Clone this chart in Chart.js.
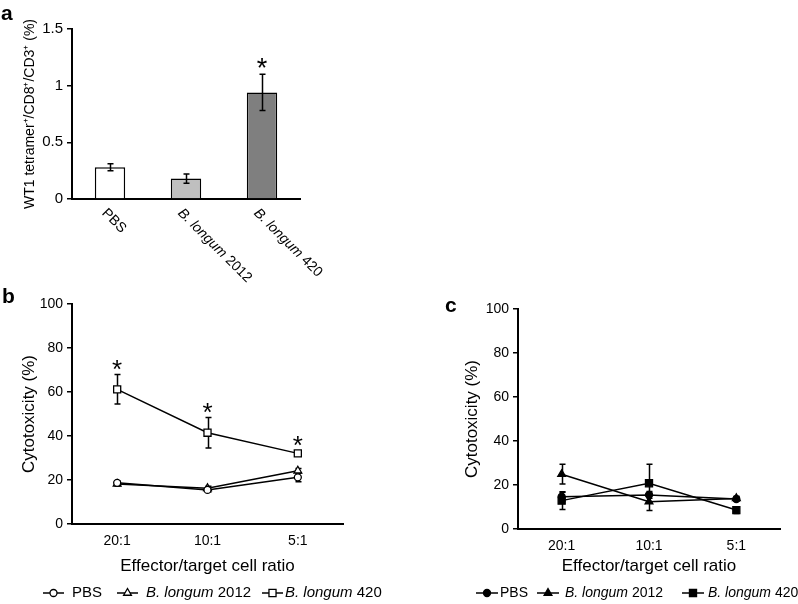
<!DOCTYPE html>
<html>
<head>
<meta charset="utf-8">
<script src="https://cdn.jsdelivr.net/npm/chart.js@4.4.0/dist/chart.umd.min.js"></script>
<style>
body{margin:0;background:#fff;}
#fig{position:relative;width:798px;height:604px;background:#fff;font-family:"Liberation Sans",Arial,sans-serif;color:#000;}
canvas{position:absolute;}
.lbl{position:absolute;font-weight:bold;font-size:21px;line-height:20px;}
</style>
</head>
<body>
<div id="fig">
<canvas id="chartA" width="330" height="290" style="left:0;top:0"></canvas>
<canvas id="chartB" width="400" height="319" style="left:0;top:285px"></canvas>
<canvas id="chartC" width="398" height="319" style="left:400px;top:285px"></canvas>
<div class="lbl" style="left:1px;top:3px">a</div>
<div class="lbl" style="left:2px;top:286px">b</div>
<div class="lbl" style="left:445px;top:295px">c</div>
</div>
<script>
var FONT='"Liberation Sans", Arial, sans-serif';

// panel a
var groups=['PBS','B. longum 2012','B. longum 420'];
var tetramer=[0.28,0.18,0.94];
var tetramerErr=[0.03,0.04,0.16];
var tetramerStar=[false,false,true];
var barFill=['#ffffff','#bfbfbf','#7f7f7f'];

// panels b and c
var ratios=['20:1','10:1','5:1'];
var bPBS=[18.7,15.5,21.2];
var bPBSErr=[1,1,2];
var b2012=[18.2,16.2,24.2];
var b2012Err=[1,1,1];
var b420=[61.2,41.5,32.1];
var b420Err=[6.7,6.9,1];
var b420Star=[true,true,true];
var cPBS=[14.7,15.5,13.6];
var cPBSErr=[2,1.5,1];
var c2012=[24.9,12.4,13.9];
var c2012Err=[4.5,4,1];
var c420=[12.9,20.8,8.6];
var c420Err=[4,8.6,1.5];

// italic species name, plain strain number
function drawRich(ctx,text,x,y,size){
  var parts=text.indexOf('B. longum')===0?[['B. longum','italic'],[text.slice(9),'normal']]:[[text,'normal']];
  for(var i=0;i<parts.length;i++){
    ctx.font=parts[i][1]+' '+size+'px '+FONT;
    ctx.fillText(parts[i][0],x,y);
    x+=ctx.measureText(parts[i][0]).width;
  }
}

function drawMarker(ctx,style,x,y,r,fill){
  ctx.beginPath();
  if(style==='circle'){
    ctx.arc(x,y,r,0,Math.PI*2);
  }else if(style==='triangle'){
    var rad=0;
    ctx.moveTo(x+Math.sin(rad)*r,y-Math.cos(rad)*r);
    rad+=Math.PI*2/3;
    ctx.lineTo(x+Math.sin(rad)*r,y-Math.cos(rad)*r);
    rad+=Math.PI*2/3;
    ctx.lineTo(x+Math.sin(rad)*r,y-Math.cos(rad)*r);
    ctx.closePath();
  }else{
    var s=r*Math.SQRT1_2;
    ctx.rect(x-s,y-s,2*s,2*s);
  }
  ctx.fillStyle=fill;
  ctx.fill();
  ctx.lineWidth=1.3;
  ctx.strokeStyle='#000';
  ctx.stroke();
}

function errorBars(chart){
  var ctx=chart.ctx,ys=chart.scales.y;
  ctx.save();
  ctx.strokeStyle='#000';
  ctx.lineWidth=1.5;
  chart.data.datasets.forEach(function(ds,i){
    var meta=chart.getDatasetMeta(i);
    meta.data.forEach(function(el,j){
      var e=ds.err[j];
      if(!e)return;
      var x=Math.round(el.x)+0.5;
      var t=ys.getPixelForValue(ds.data[j]+e);
      var b=ys.getPixelForValue(ds.data[j]-e);
      ctx.beginPath();
      ctx.moveTo(x,t);ctx.lineTo(x,b);
      ctx.moveTo(x-3,t);ctx.lineTo(x+3,t);
      ctx.moveTo(x-3,b);ctx.lineTo(x+3,b);
      ctx.stroke();
    });
  });
  ctx.restore();
}

function extras(cfg){
  return {
    id:'extras',
    beforeDatasetsDraw:function(chart){
      if(!cfg.errOnTop)errorBars(chart);
    },
    afterDatasetsDraw:function(chart){
      if(cfg.errOnTop)errorBars(chart);
    },
    afterDraw:function(chart){
      var ctx=chart.ctx,ys=chart.scales.y;
      ctx.save();
      ctx.fillStyle='#000';
      // stars
      chart.data.datasets.forEach(function(ds,i){
        if(!ds.star)return;
        var meta=chart.getDatasetMeta(i);
        meta.data.forEach(function(el,j){
          if(!ds.star[j])return;
          var t=ys.getPixelForValue(ds.data[j]+ds.err[j])-cfg.starGap;
          ctx.font=cfg.starSize+'px '+FONT;
          ctx.textAlign='center';
          ctx.textBaseline='alphabetic';
          ctx.fillText('*',el.x,t+0.58*cfg.starSize);
        });
      });
      // rotated category labels (panel a)
      if(cfg.catLabels){
        var xs=chart.scales.x;
        chart.data.labels.forEach(function(lab,i){
          ctx.save();
          ctx.translate(xs.getPixelForValue(i)+cfg.catLabels.dx,chart.chartArea.bottom+cfg.catLabels.dy);
          ctx.rotate(Math.PI/4);
          ctx.textAlign='left';
          ctx.textBaseline='top';
          drawRich(ctx,lab,0,0,cfg.catLabels.size);
          ctx.restore();
        });
      }
      // legend
      if(cfg.legend){
        var L=cfg.legend;
        chart.data.datasets.forEach(function(ds,i){
          var x0=L.lx[i];
          ctx.strokeStyle='#000';
          ctx.lineWidth=1.5;
          ctx.beginPath();
          ctx.moveTo(x0,L.y);ctx.lineTo(x0+L.len,L.y);
          ctx.stroke();
          drawMarker(ctx,ds.pointStyle,x0+L.len/2,L.y,ds.pointRadius,ds.pointBackgroundColor);
          ctx.fillStyle='#000';
          ctx.textAlign='left';
          ctx.textBaseline='middle';
          drawRich(ctx,ds.label,L.tx[i],L.y,L.size);
        });
      }
      ctx.restore();
    }
  };
}

function lineSet(label,data,err,style,r,fill,star){
  return {label:label,data:data,err:err,star:star,borderColor:'#000',borderWidth:1.5,tension:0,
    pointStyle:style,pointRadius:r,pointHoverRadius:r,pointBackgroundColor:fill,pointBorderColor:'#000',pointBorderWidth:1.3};
}

function lineOptions(pad,titlePad,xTitlePad){
  return {
    responsive:false,animation:false,devicePixelRatio:1,
    layout:{padding:pad},
    plugins:{legend:{display:false},tooltip:{enabled:false}},
    scales:{
      x:{offset:true,
        ticks:{color:'#000',font:{size:14,family:FONT},padding:9},
        grid:{drawOnChartArea:false,drawTicks:false},
        border:{color:'#000',width:2},
        title:{display:true,text:'Effector/target cell ratio',color:'#000',font:{size:17,family:FONT},padding:{top:0,bottom:xTitlePad}},
        afterFit:function(s){s.height=54;}},
      y:{min:0,max:100,
        ticks:{stepSize:20,color:'#000',font:{size:14,family:FONT},padding:4},
        grid:{drawOnChartArea:false,tickLength:5,color:'#000',lineWidth:1.5},
        border:{color:'#000',width:2},
        title:{display:true,text:'Cytotoxicity (%)',color:'#000',font:{size:17,family:FONT},padding:{top:titlePad,bottom:0}},
        afterFit:function(s){s.width=72;}}
    }
  };
}

new Chart(document.getElementById('chartA'),{
  type:'bar',
  data:{labels:groups,datasets:[{data:tetramer,err:tetramerErr,star:tetramerStar,backgroundColor:barFill,
    borderColor:'#000',borderWidth:1.5,barPercentage:0.4,categoryPercentage:1}]},
  options:{
    responsive:false,animation:false,devicePixelRatio:1,
    layout:{padding:{left:0,right:30,top:29,bottom:1}},
    plugins:{legend:{display:false},tooltip:{enabled:false}},
    scales:{
      x:{ticks:{display:false},grid:{drawOnChartArea:false,drawTicks:false},border:{color:'#000',width:2},
        afterFit:function(s){s.height=90;}},
      y:{min:0,max:1.5,
        ticks:{stepSize:0.5,color:'#000',font:{size:15,family:FONT},padding:4,callback:function(v){return String(v);}},
        grid:{drawOnChartArea:false,tickLength:5,color:'#000',lineWidth:1.5},
        border:{color:'#000',width:2},
        title:{display:true,text:'WT1 tetramer\u207A/CD8\u207A/CD3\u207A (%)',color:'#000',font:{size:14,family:FONT},padding:{top:22,bottom:0}},
        afterFit:function(s){s.width=72;}}
    }
  },
  plugins:[extras({errOnTop:true,starGap:13,starSize:27,catLabels:{dx:-1,dy:7,size:14}})]
});

new Chart(document.getElementById('chartB'),{
  type:'line',
  data:{labels:ratios,datasets:[
    lineSet('PBS',bPBS,bPBSErr,'circle',3.5,'#fff'),
    lineSet('B. longum 2012',b2012,b2012Err,'triangle',4.5,'#fff'),
    lineSet('B. longum 420',b420,b420Err,'rect',5,'#fff',b420Star)
  ]},
  options:lineOptions({left:0,right:57,top:19,bottom:26},19,1),
  plugins:[extras({errOnTop:false,starGap:12,starSize:26,legend:{y:308,len:21,size:15,lx:[43,117,262],tx:[72,146,285]}})]
});

new Chart(document.getElementById('chartC'),{
  type:'line',
  data:{labels:ratios,datasets:[
    lineSet('PBS',cPBS,cPBSErr,'circle',3.5,'#000'),
    lineSet('B. longum 2012',c2012,c2012Err,'triangle',4.5,'#000'),
    lineSet('B. longum 420',c420,c420Err,'rect',5,'#000')
  ]},
  options:lineOptions({left:46,right:18,top:24,bottom:21},16,6),
  plugins:[extras({errOnTop:false,starGap:12,starSize:26,legend:{y:308,len:22,size:14,lx:[76,137,282],tx:[100,165,308]}})]
});
</script>
</body>
</html>
